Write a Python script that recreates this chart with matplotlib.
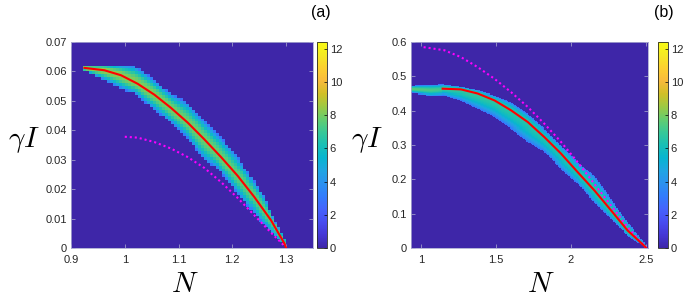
import numpy as np
import matplotlib
matplotlib.use("Agg")
import matplotlib.pyplot as plt
from matplotlib.colors import LinearSegmentedColormap

# --- panel (a): values ---
a_red_n = [0.925, 0.962, 0.993, 1.024, 1.055, 1.086, 1.117, 1.148, 1.179, 1.210,
           1.241, 1.272, 1.297, 1.300]
a_red_v = [0.0612, 0.0604, 0.0587, 0.0558, 0.0521, 0.0476, 0.0426, 0.0369, 0.0309,
           0.0245, 0.0173, 0.0094, 0.0015, 0.0]
a_mag_n = [1.000, 1.024, 1.055, 1.086, 1.117, 1.148, 1.179, 1.210, 1.241, 1.272, 1.297]
a_mag_v = [0.0378, 0.0375, 0.0360, 0.0338, 0.0309, 0.0272, 0.0224, 0.0170, 0.0111,
           0.0052, 0.0007]
# band of the 2-D histogram: upper / lower edge and peak count along N
a_hi_n = [0.925, 0.962, 1.015, 1.036, 1.055, 1.086, 1.117, 1.148, 1.179, 1.210,
          1.235, 1.260, 1.278, 1.302]
a_hi_v = [0.0620, 0.0625, 0.0620, 0.0596, 0.0568, 0.0524, 0.0494, 0.0432, 0.0376,
          0.0313, 0.0240, 0.0172, 0.0092, 0.0015]
a_lo_n = [0.925, 0.962, 0.993, 1.018, 1.036, 1.080, 1.117, 1.148, 1.173, 1.210,
          1.241, 1.272, 1.302]
a_lo_v = [0.0600, 0.0570, 0.0542, 0.0525, 0.0497, 0.0434, 0.0372, 0.0299, 0.0270,
          0.0185, 0.0118, 0.0050, 0.0]
a_pk_n = [0.925, 1.000, 1.100, 1.200, 1.300]
a_pk_v = [8.6, 8.3, 8.0, 7.8, 7.5]

# --- panel (b) ---
b_red_n = [1.144, 1.266, 1.377, 1.489, 1.600, 1.711, 1.822, 1.933, 2.044, 2.155,
           2.266, 2.377, 2.489, 2.500]
b_red_v = [0.464, 0.462, 0.450, 0.430, 0.401, 0.367, 0.323, 0.275, 0.221, 0.168,
           0.110, 0.051, 0.006, 0.0]
b_mag_n = [1.017, 1.155, 1.266, 1.377, 1.489, 1.600, 1.711, 1.822, 1.933, 2.044,
           2.155, 2.266, 2.377, 2.489, 2.500]
b_mag_v = [0.585, 0.576, 0.556, 0.527, 0.493, 0.454, 0.411, 0.362, 0.309, 0.250,
           0.187, 0.124, 0.061, 0.006, 0.0]
b_hi_n = [0.933, 1.144, 1.266, 1.377, 1.489, 1.600, 1.711, 1.822, 1.933, 2.044,
          2.155, 2.266, 2.377, 2.489, 2.505]
b_hi_v = [0.472, 0.476, 0.469, 0.459, 0.445, 0.425, 0.391, 0.348, 0.299, 0.250,
          0.212, 0.144, 0.076, 0.017, 0.004]
b_lo_n = [0.933, 1.066, 1.155, 1.266, 1.377, 1.489, 1.600, 1.711, 1.822, 1.933,
          2.044, 2.155, 2.266, 2.377, 2.505]
b_lo_v = [0.452, 0.443, 0.445, 0.430, 0.406, 0.382, 0.348, 0.309, 0.280, 0.231,
          0.187, 0.134, 0.085, 0.037, 0.0]
b_pk_n = [0.933, 1.200, 1.600, 2.000, 2.400, 2.505]
b_pk_v = [7.6, 7.0, 6.6, 6.4, 6.8, 6.0]

cb_ticks = [0, 2, 4, 6, 8, 10, 12]
cmax = 12.4

parula = [[0.2422, 0.1504, 0.6603], [0.2706, 0.2147, 0.8364], [0.2813, 0.3006, 0.9414],
          [0.2699, 0.3892, 0.9906], [0.1963, 0.4847, 0.9892], [0.1687, 0.5703, 0.9359],
          [0.1248, 0.6459, 0.8883], [0.0297, 0.7082, 0.8163], [0.0964, 0.7500, 0.7120],
          [0.2161, 0.7843, 0.5923], [0.3909, 0.8029, 0.4354], [0.6174, 0.7876, 0.2612],
          [0.8203, 0.7498, 0.1535], [0.9728, 0.7298, 0.2394], [0.9892, 0.8136, 0.1885],
          [0.9597, 0.9135, 0.1423], [0.9769, 0.9839, 0.0805]]
cmap = LinearSegmentedColormap.from_list("parula", parula)

plt.rcParams['font.family'] = ['Liberation Sans', 'DejaVu Sans']
plt.rcParams['mathtext.fontset'] = 'cm'


def band_image(xe, ye, hi, lo, pk, red):
    # fill histogram cells between the read edges, peaking on the red curve
    xc = 0.5 * (xe[:-1] + xe[1:])
    yc = 0.5 * (ye[:-1] + ye[1:])
    Z = np.zeros((len(yc), len(xc)))
    x0 = max(hi[0][0], lo[0][0])
    x1 = min(hi[0][-1], lo[0][-1])
    for j, x in enumerate(xc):
        if x < x0 or x > x1:
            continue
        h = np.interp(x, *hi)
        l = np.interp(x, *lo)
        p = np.interp(x, *pk)
        if red[0][0] <= x <= red[0][-1]:
            m = np.clip(np.interp(x, *red), l, h)
        else:
            m = 0.5 * (l + h)
        up = yc >= m
        t = np.where(up, (yc - m) / max(h - m, 1e-9), (m - yc) / max(m - l, 1e-9))
        inside = (yc >= l) & (yc <= h)
        Z[inside, j] = 2.8 + (p - 2.8) * (1 - np.clip(t[inside], 0, 1) ** 2.0)
    return Z


fig = plt.figure(figsize=(6.88, 2.99), dpi=100)

panels = [
    dict(rect=[71/688, 51/299, 242/688, 206/299], cb=[317/688, 51/299, 10/688, 206/299],
         xe=np.linspace(0.9, 1.35, 81), ye=np.linspace(0, 0.07, 71),
         band=((a_hi_n, a_hi_v), (a_lo_n, a_lo_v), (a_pk_n, a_pk_v), (a_red_n, a_red_v)),
         red=(a_red_n, a_red_v), mag=(a_mag_n, a_mag_v),
         xlim=(0.9, 1.35), ylim=(0, 0.07),
         xt=[0.9, 1, 1.1, 1.2, 1.3], xtl=['0.9', '1', '1.1', '1.2', '1.3'],
         yt=[0, 0.01, 0.02, 0.03, 0.04, 0.05, 0.06, 0.07],
         ytl=['0', '0.01', '0.02', '0.03', '0.04', '0.05', '0.06', '0.07'],
         lab='(a)', labxy=(321/688, 1 - 13/299), ylxy=(24/688, 1 - 140/299),
         nxy=(185/688, 1 - 284/299)),
    dict(rect=[411/688, 51/299, 237/688, 206/299], cb=[658/688, 51/299, 10/688, 206/299],
         xe=np.linspace(0.933, 2.513, 159), ye=np.linspace(0, 0.6, 201),
         band=((b_hi_n, b_hi_v), (b_lo_n, b_lo_v), (b_pk_n, b_pk_v), (b_red_n, b_red_v)),
         red=(b_red_n, b_red_v), mag=(b_mag_n, b_mag_v),
         xlim=(0.933, 2.513), ylim=(0, 0.6),
         xt=[1, 1.5, 2, 2.5], xtl=['1', '1.5', '2', '2.5'],
         yt=[0, 0.1, 0.2, 0.3, 0.4, 0.5, 0.6],
         ytl=['0', '0.1', '0.2', '0.3', '0.4', '0.5', '0.6'],
         lab='(b)', labxy=(664/688, 1 - 13/299), ylxy=(367/688, 1 - 140/299),
         nxy=(541/688, 1 - 284/299)),
]

for p in panels:
    ax = fig.add_axes(p['rect'])
    Z = band_image(p['xe'], p['ye'], *p['band'])
    mesh = ax.pcolormesh(p['xe'], p['ye'], Z, cmap=cmap, vmin=0, vmax=cmax,
                         shading='flat', rasterized=True)
    ax.plot(*p['mag'], color='#ff00ff', lw=1.5, ls=(0, (1.0, 1.4)))
    ax.plot(*p['red'], color='#ff0000', lw=1.5)
    ax.set_xlim(p['xlim'])
    ax.set_ylim(p['ylim'])
    ax.set_xticks(p['xt'])
    ax.set_xticklabels(p['xtl'])
    ax.set_yticks(p['yt'])
    ax.set_yticklabels(p['ytl'])
    ax.tick_params(direction='in', length=3, width=0.5, color='#b0b0d0',
                   labelsize=8, labelcolor='#262626', top=True, right=True)
    ax.tick_params(axis='x', pad=5)
    ax.tick_params(axis='y', pad=3)
    for s in ax.spines.values():
        s.set_color('#a8a8d0')
        s.set_linewidth(0.6)

    cax = fig.add_axes(p['cb'])
    cb = fig.colorbar(mesh, cax=cax, ticks=cb_ticks)
    cb.outline.set_linewidth(0.6)
    cb.outline.set_edgecolor('#262626')
    cax.tick_params(direction='in', length=2, width=0.5, labelsize=8,
                    labelcolor='#262626', pad=2)

    fig.text(*p['labxy'], p['lab'], fontsize=11.5, ha='center', va='center')
    fig.text(*p['ylxy'], r'$\gamma I$', fontsize=21, ha='center', va='center')
    fig.text(*p['nxy'], r'$N$', fontsize=21, ha='center', va='center')

fig.savefig('out.png', dpi=100)
